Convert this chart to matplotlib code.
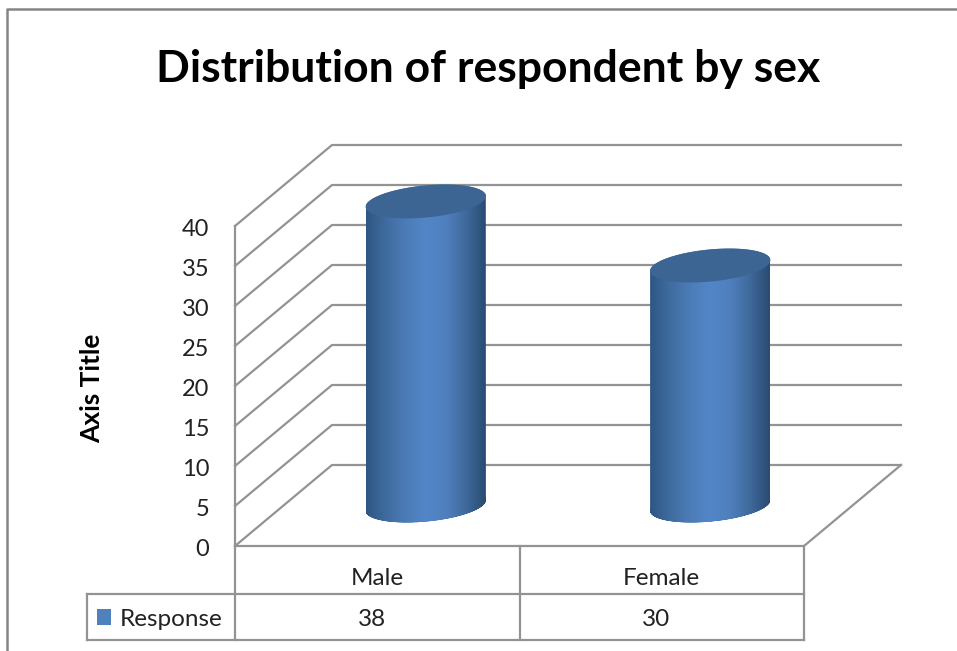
import numpy as np
import matplotlib
matplotlib.use('Agg')
import matplotlib.pyplot as plt
from matplotlib.colors import LinearSegmentedColormap
from matplotlib.lines import Line2D
from matplotlib.patches import PathPatch, Polygon, Rectangle
from matplotlib.path import Path
from matplotlib.transforms import Affine2D

# Data
categories = ['Male', 'Female']
response = [38, 30]
y_ticks = [0, 5, 10, 15, 20, 25, 30, 35, 40]
series_name = 'Response'
title = 'Distribution of respondent by sex'
y_title = 'Axis Title'

plt.rcParams['font.family'] = ['Lato', 'DejaVu Sans']

W, H = 957, 651
fig = plt.figure(figsize=(W / 100, H / 100), dpi=100, facecolor='white')

# front plane of the 3D box, in pixels
left, right, bottom, top = 235, 804, 546, 226
ax = fig.add_axes([left / W, 1 - bottom / H, (right - left) / W, (bottom - top) / H])
ax.set_xlim(0, 2)
ax.set_ylim(0, 40)
ax.patch.set_visible(False)
for s in ax.spines.values():
    s.set_visible(False)

# data units per pixel
px_x = 2 / (right - left)
px_y = 40 / (bottom - top)
depth_x, depth_y = 97, 81
line_col = '#939393'
line_w = 1.6


def add_line(xs, ys, **kw):
    ax.add_line(Line2D(xs, ys, color=line_col, lw=line_w, clip_on=False,
                       solid_capstyle='projecting', **kw))


# gridlines on the back wall and side wall
for v in y_ticks:
    add_line([0, depth_x * px_x, 2 + depth_x * px_x],
             [v, v + depth_y * px_y, v + depth_y * px_y])

# floor edges
add_line([0, 2, 2 + depth_x * px_x], [0, 0, depth_y * px_y])

# data table below the floor
row1 = -48 * px_y
row2 = -94 * px_y
legend_left = (87 - left) * px_x
add_line([0, 0], [40, row2])
add_line([1, 1], [0, row2])
add_line([2, 2], [0, row2])
add_line([legend_left, 2], [row1, row1])
add_line([legend_left, 2], [row2, row2])
add_line([legend_left, legend_left], [row1, row2])

# cylinders
cyl_cmap = LinearSegmentedColormap.from_list(
    'cyl', ['#2f5683', '#3f6c9f', '#4c7cb8', '#5386c8', '#4f80bd', '#3f6a9c', '#2a4a70'])
semi_a, semi_b, tilt = 60.4, 16.0, np.radians(5.5)
half_w = 60
t = np.linspace(0, 2 * np.pi, 361)
ex = (semi_a * np.cos(t) * np.cos(tilt) - semi_b * np.sin(t) * np.sin(tilt)) * px_x
ey = (semi_a * np.cos(t) * np.sin(tilt) + semi_b * np.sin(t) * np.cos(tilt)) * px_y
base = depth_y / 2 * px_y
i_r = np.argmax(ex)
i_l = np.argmin(ex)
# walk the ellipse from its rightmost to leftmost point, both ways round
ex2, ey2 = np.r_[ex, ex], np.r_[ey, ey]
up_end = i_l if i_l > i_r else i_l + 360
upper_x, upper_y = ex2[i_r:up_end + 1], ey2[i_r:up_end + 1]
low_end = i_r + 360 if i_r > i_l else i_r
lower_x, lower_y = ex2[i_l:low_end + 1], ey2[i_l:low_end + 1]

for i, val in enumerate(response):
    cx = i + 0.5 + depth_x / 2 * px_x
    # body outline: lower rim of the base, then upper rim of the top
    xs = np.r_[cx + lower_x, cx + upper_x]
    ys = np.r_[base + lower_y, val + base + upper_y]
    body = PathPatch(Path(np.c_[xs, ys]), fc='none', ec='none', transform=ax.transData)
    ax.add_patch(body)
    grad = np.linspace(0, 1, 256).reshape(1, -1)
    im = ax.imshow(grad, cmap=cyl_cmap, aspect='auto', zorder=3,
                   extent=(cx - half_w * px_x, cx + half_w * px_x, 0, val + 10))
    # the top of the cylinder rises past the front plane
    im.set_clip_box(fig.bbox)
    im.set_clip_path(body)
    ax.add_patch(Polygon(np.c_[cx + ex, val + base + ey], fc='#3c6594', ec='none', zorder=4,
                         clip_on=False))

ax.set_xlim(0, 2)
ax.set_ylim(0, 40)

# axes text
ax.set_yticks(y_ticks)
ax.set_yticklabels([str(v) for v in y_ticks])
ax.tick_params(axis='y', length=0, pad=18.5, labelsize=17, labelcolor='#222222')
for lab in ax.get_yticklabels():
    lab.set_transform(lab.get_transform() + Affine2D().translate(0, -2))
ax.set_xticks([0.5, 1.5])
ax.set_xticklabels(categories)
ax.tick_params(axis='x', length=0, pad=15.5, labelsize=17.5, labelcolor='#222222')
ax.set_ylabel(y_title, fontsize=19, fontweight='bold', va='center', color='black')
ax.yaxis.set_label_coords((92 - left) / (right - left), (bottom - 388) / (bottom - top))

row_mid = (row1 + row2) / 2 - 2 * px_y
for i, val in enumerate(response):
    ax.text(i + 0.5 - 0.02, row_mid, str(val), ha='center', va='center',
            fontsize=17.5, color='#222222', clip_on=False)
ax.text((120 - left) * px_x, row_mid, series_name, ha='left', va='center',
        fontsize=17.5, color='#222222', clip_on=False)
ax.add_patch(Rectangle(((97 - left) * px_x, (bottom - 625) * px_y), 14 * px_x, 16 * px_y,
                       fc='#4f81bd', ec='none', clip_on=False))

fig.text(488 / W, 1 - 69 / H, title, ha='center', va='center', fontsize=32,
         fontweight='bold', color='black')

# outer chart frame, running off the right and bottom edges
fig.add_artist(Line2D([7 / W, 7 / W, 1], [0, 1 - 9 / H, 1 - 9 / H], color='#858585', lw=1.8))

fig.savefig('out.png', dpi=100)
